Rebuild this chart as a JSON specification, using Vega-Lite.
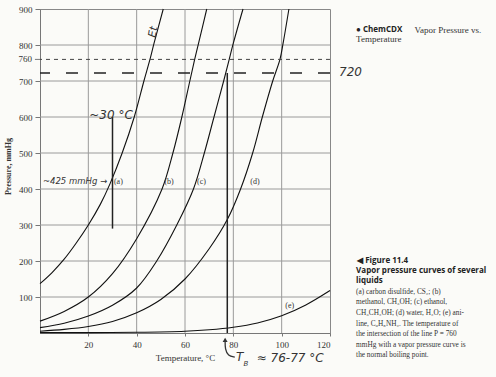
{
  "$schema": "https://vega.github.io/schema/vega-lite/v6.json",
  "autosize": "none",
  "width": 290,
  "height": 324,
  "padding": {"left": 40, "top": 9, "right": 166, "bottom": 44},
  "background": "#fbfbf8",
  "config": {
    "view": {"stroke": "#888", "strokeWidth": 1},
    "axis": {"grid": false, "labelOverlap": false, "labelFont": "Liberation Serif", "labelFontSize": 9, "labelColor": "#333", "titleFont": "Liberation Serif", "titleColor": "#333", "domainColor": "#777", "tickColor": "#777"},
    "axisX": {"labelPadding": 4, "tickSize": 3, "titleFontWeight": "normal", "titleFontSize": 9, "titlePadding": 4},
    "axisY": {"labelPadding": 3, "tickSize": 5, "titleFontWeight": "bold", "titleFontSize": 8, "titlePadding": 6}
  },
  "datasets": {
    "curves": [
      {"s": "a", "T": 0, "P": 137}, {"s": "a", "T": 5, "P": 168}, {"s": "a", "T": 10, "P": 205}, {"s": "a", "T": 15, "P": 250}, {"s": "a", "T": 20, "P": 300}, {"s": "a", "T": 25, "P": 358}, {"s": "a", "T": 29, "P": 415}, {"s": "a", "T": 34, "P": 500}, {"s": "a", "T": 39, "P": 600}, {"s": "a", "T": 43, "P": 700}, {"s": "a", "T": 45.5, "P": 760}, {"s": "a", "T": 47.2, "P": 805}, {"s": "a", "T": 51, "P": 900},
      {"s": "b", "T": 0, "P": 33}, {"s": "b", "T": 10, "P": 60}, {"s": "b", "T": 20, "P": 100}, {"s": "b", "T": 30, "P": 165}, {"s": "b", "T": 40, "P": 262}, {"s": "b", "T": 50.5, "P": 400}, {"s": "b", "T": 55, "P": 500}, {"s": "b", "T": 58.7, "P": 600}, {"s": "b", "T": 62, "P": 700}, {"s": "b", "T": 64, "P": 760}, {"s": "b", "T": 65.8, "P": 810}, {"s": "b", "T": 69, "P": 900},
      {"s": "c", "T": 0, "P": 15}, {"s": "c", "T": 10, "P": 27}, {"s": "c", "T": 20, "P": 47}, {"s": "c", "T": 30, "P": 77}, {"s": "c", "T": 40, "P": 125}, {"s": "c", "T": 48.3, "P": 200}, {"s": "c", "T": 56.6, "P": 300}, {"s": "c", "T": 63.5, "P": 400}, {"s": "c", "T": 68, "P": 500}, {"s": "c", "T": 72, "P": 600}, {"s": "c", "T": 76, "P": 700}, {"s": "c", "T": 78.3, "P": 760}, {"s": "c", "T": 80, "P": 805}, {"s": "c", "T": 84, "P": 900},
      {"s": "d", "T": 0, "P": 5}, {"s": "d", "T": 10, "P": 10}, {"s": "d", "T": 20, "P": 18}, {"s": "d", "T": 30, "P": 32}, {"s": "d", "T": 40, "P": 56}, {"s": "d", "T": 50, "P": 93}, {"s": "d", "T": 60, "P": 150}, {"s": "d", "T": 70, "P": 234}, {"s": "d", "T": 77.5, "P": 315}, {"s": "d", "T": 83, "P": 400}, {"s": "d", "T": 88, "P": 500}, {"s": "d", "T": 92, "P": 600}, {"s": "d", "T": 96.3, "P": 700}, {"s": "d", "T": 99.3, "P": 760}, {"s": "d", "T": 100.6, "P": 805}, {"s": "d", "T": 103, "P": 900},
      {"s": "e", "T": 0, "P": 1}, {"s": "e", "T": 20, "P": 1}, {"s": "e", "T": 40, "P": 2}, {"s": "e", "T": 60, "P": 5}, {"s": "e", "T": 70, "P": 9}, {"s": "e", "T": 80, "P": 16}, {"s": "e", "T": 90, "P": 28}, {"s": "e", "T": 100, "P": 48}, {"s": "e", "T": 110, "P": 78}, {"s": "e", "T": 120, "P": 118}
    ]
  },
  "layer": [
    {
      "data": {"values": [{"T": 20}, {"T": 40}, {"T": 60}, {"T": 80}, {"T": 100}]},
      "mark": {"type": "rule", "color": "#9a9a9a", "strokeWidth": 1},
      "encoding": {"x": {"field": "T", "type": "quantitative"}}
    },
    {
      "data": {"values": [{"P": 100}, {"P": 200}, {"P": 300}, {"P": 400}, {"P": 500}, {"P": 600}, {"P": 700}, {"P": 800}]},
      "mark": {"type": "rule", "color": "#9a9a9a", "strokeWidth": 1},
      "encoding": {"y": {"field": "P", "type": "quantitative"}}
    },
    {
      "data": {"name": "curves"},
      "mark": {"type": "line", "color": "#111", "strokeWidth": 1.1, "interpolate": "catmull-rom"},
      "encoding": {
        "x": {"field": "T", "type": "quantitative", "scale": {"domain": [0, 120], "nice": false},
          "axis": {"values": [20, 40, 60, 80, 100, 120], "title": "Temperature, °C", "labelOverlap": false}},
        "y": {"field": "P", "type": "quantitative", "scale": {"domain": [0, 900], "nice": false},
          "axis": {"values": [100, 200, 300, 400, 500, 600, 700, 800, 900], "title": "Pressure, mmHg", "titleY": 157, "labelOverlap": false}},
        "detail": {"field": "s"}
      }
    },
    {
      "data": {"values": [{"P": 760}]},
      "mark": {"type": "rule", "color": "#444", "strokeWidth": 1, "strokeDash": [4, 4]},
      "encoding": {"y": {"field": "P", "type": "quantitative"}}
    },
    {
      "data": {"values": [{"P": 760, "T0": -2.1, "T1": 0}]},
      "mark": {"type": "rule", "color": "#777", "strokeWidth": 1},
      "encoding": {"y": {"field": "P", "type": "quantitative"}, "x": {"field": "T0", "type": "quantitative"}, "x2": {"field": "T1"}}
    },
    {
      "data": {"values": [{"t": "760", "T": -3.3, "P": 760}]},
      "mark": {"type": "text", "font": "Liberation Serif", "fontSize": 9, "color": "#333", "align": "right", "baseline": "middle"},
      "encoding": {"x": {"field": "T", "type": "quantitative"}, "y": {"field": "P", "type": "quantitative"}, "text": {"field": "t"}}
    },
    {
      "data": {"values": [{"P": 722}]},
      "mark": {"type": "rule", "color": "#222", "strokeWidth": 1.5, "strokeDash": [12, 16]},
      "encoding": {"y": {"field": "P", "type": "quantitative"}}
    },
    {
      "data": {"values": [{"T": 77.5, "P0": 0, "P1": 722}, {"T": 30, "P0": 290, "P1": 600}]},
      "mark": {"type": "rule", "color": "#222", "strokeWidth": 1.5},
      "encoding": {"x": {"field": "T", "type": "quantitative"}, "y": {"field": "P0", "type": "quantitative"}, "y2": {"field": "P1"}}
    },
    {
      "data": {"values": [{"t": "(a)", "T": 30.6, "P": 420}, {"t": "(b)", "T": 51.5, "P": 420}, {"t": "(c)", "T": 65, "P": 420}, {"t": "(d)", "T": 87, "P": 420}, {"t": "(e)", "T": 101.5, "P": 75}]},
      "mark": {"type": "text", "font": "Liberation Serif", "fontSize": 8, "color": "#333", "align": "left", "baseline": "middle"},
      "encoding": {"x": {"field": "T", "type": "quantitative"}, "y": {"field": "P", "type": "quantitative"}, "text": {"field": "t"}}
    },
    {
      "data": {"values": [{"t": "~30 °C", "T": 29.4, "P": 605}, {"t": "720", "T": 128.5, "P": 726}]},
      "mark": {"type": "text", "font": "DejaVu Sans", "fontStyle": "italic", "fontSize": 12, "color": "#333", "align": "center", "baseline": "middle"},
      "encoding": {"x": {"field": "T", "type": "quantitative"}, "y": {"field": "P", "type": "quantitative"}, "text": {"field": "t"}}
    },
    {
      "data": {"values": [{"t": "T", "T": 82.6, "P": -68}, {"t": "≈ 76-77 °C", "T": 103.5, "P": -70}]},
      "mark": {"type": "text", "font": "DejaVu Sans", "fontStyle": "italic", "fontSize": 12, "color": "#333", "align": "center", "baseline": "middle"},
      "encoding": {"x": {"field": "T", "type": "quantitative"}, "y": {"field": "P", "type": "quantitative"}, "text": {"field": "t"}}
    },
    {
      "data": {"values": [{"t": "B", "T": 85.2, "P": -86}]},
      "mark": {"type": "text", "font": "DejaVu Sans", "fontStyle": "italic", "fontSize": 7, "color": "#333", "align": "center", "baseline": "middle"},
      "encoding": {"x": {"field": "T", "type": "quantitative"}, "y": {"field": "P", "type": "quantitative"}, "text": {"field": "t"}}
    },
    {
      "data": {"values": [{"t": "~425 mmHg →", "T": 1.2, "P": 421}]},
      "mark": {"type": "text", "font": "DejaVu Sans", "fontStyle": "italic", "fontSize": 8.5, "color": "#333", "align": "left", "baseline": "middle"},
      "encoding": {"x": {"field": "T", "type": "quantitative"}, "y": {"field": "P", "type": "quantitative"}, "text": {"field": "t"}}
    },
    {
      "data": {"values": [{"t": "Et", "T": 47, "P": 836}]},
      "mark": {"type": "text", "font": "DejaVu Sans", "fontStyle": "italic", "fontSize": 11, "color": "#333", "align": "center", "baseline": "middle", "angle": 280},
      "encoding": {"x": {"field": "T", "type": "quantitative"}, "y": {"field": "P", "type": "quantitative"}, "text": {"field": "t"}}
    },
    {
      "data": {"values": [{"i": 0, "T": 80.6, "P": -67}, {"i": 1, "T": 77.8, "P": -63}, {"i": 2, "T": 76.6, "P": -46}, {"i": 3, "T": 76.6, "P": -19}]},
      "mark": {"type": "line", "color": "#333", "strokeWidth": 1.3, "interpolate": "basis"},
      "encoding": {"x": {"field": "T", "type": "quantitative"}, "y": {"field": "P", "type": "quantitative"}, "order": {"field": "i"}}
    },
    {
      "data": {"values": [{"T": 76.6, "P": -19}]},
      "mark": {"type": "point", "shape": "triangle-up", "filled": true, "color": "#333", "size": 25, "opacity": 1},
      "encoding": {"x": {"field": "T", "type": "quantitative"}, "y": {"field": "P", "type": "quantitative"}}
    },
    {
      "data": {"values": [{"t": "● ChemCDX", "T": 130.8, "P": 842}, {"t": "◀  Figure 11.4", "T": 131.2, "P": 199}, {"t": "Vapor pressure curves of several", "T": 130.8, "P": 171}, {"t": "liquids", "T": 130.8, "P": 144}]},
      "mark": {"type": "text", "font": "Open Sans", "fontSize": 8, "fontWeight": "bold", "color": "#222", "align": "left", "baseline": "middle"},
      "encoding": {"x": {"field": "T", "type": "quantitative"}, "y": {"field": "P", "type": "quantitative"}, "text": {"field": "t"}}
    },
    {
      "data": {"values": [{"t": "Vapor Pressure vs.", "T": 155, "P": 842}, {"t": "Temperature", "T": 130.8, "P": 816}]},
      "mark": {"type": "text", "font": "Liberation Serif", "fontSize": 9, "color": "#333", "align": "left", "baseline": "middle"},
      "encoding": {"x": {"field": "T", "type": "quantitative"}, "y": {"field": "P", "type": "quantitative"}, "text": {"field": "t"}}
    },
    {
      "data": {"values": [
        {"t": "(a) carbon disulfide, CS₂; (b)", "T": 130.8, "P": 114},
        {"t": "methanol, CH₃OH; (c) ethanol,", "T": 130.8, "P": 85},
        {"t": "CH₃CH₂OH; (d) water, H₂O; (e) ani-", "T": 130.8, "P": 56},
        {"t": "line, C₆H₅NH₂. The temperature of", "T": 130.8, "P": 26},
        {"t": "the intersection of the line P = 760", "T": 130.8, "P": -3},
        {"t": "mmHg with a vapor pressure curve is", "T": 130.8, "P": -32},
        {"t": "the normal boiling point.", "T": 130.8, "P": -61}
      ]},
      "mark": {"type": "text", "font": "Liberation Serif", "fontSize": 7.3, "color": "#333", "align": "left", "baseline": "middle"},
      "encoding": {"x": {"field": "T", "type": "quantitative"}, "y": {"field": "P", "type": "quantitative"}, "text": {"field": "t"}}
    }
  ]
}
